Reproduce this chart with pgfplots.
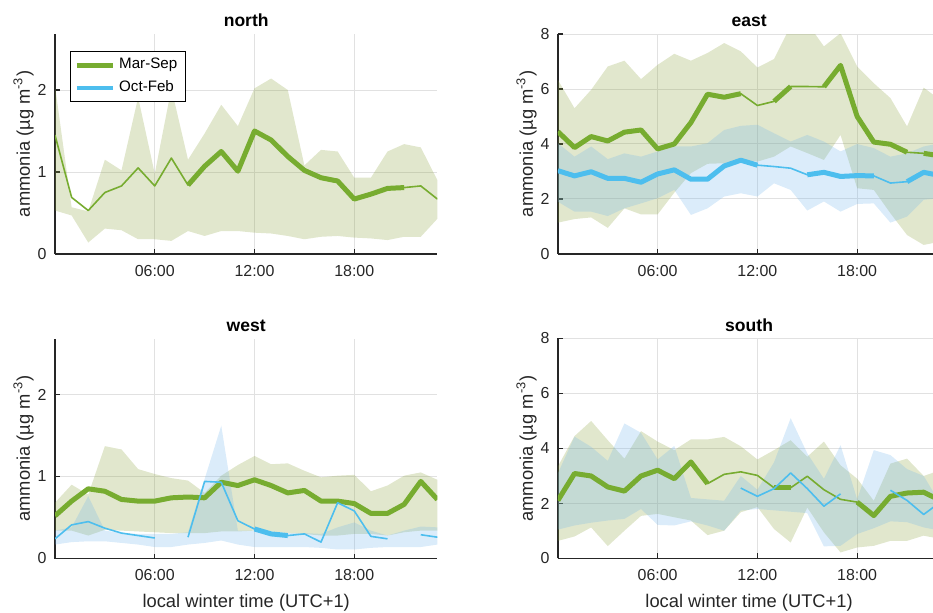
\documentclass[border=0pt]{standalone}
\usepackage{fontspec}
\setmainfont{Liberation Sans}
\usepackage{pgfplots}
\pgfplotsset{compat=1.18}
\usepackage{pgfplotstable}
\usepgfplotslibrary{groupplots,fillbetween}
\usetikzlibrary{calc}

\definecolor{LineGreen}{RGB}{119,172,48}
\definecolor{LineBlue}{RGB}{77,190,238}
\definecolor{BandGreen}{RGB}{135,160,55}
\definecolor{BandBlue}{RGB}{111,179,235}
\definecolor{AxisGray}{RGB}{38,38,38}
\definecolor{GridGray}{RGB}{225,225,225}

\pgfplotsset{
  gl/.style={LineGreen, line join=round},
  bl/.style={LineBlue, line join=round},
  thk/.style={line width=2.5bp},
  thn/.style={line width=0.8bp},
  gband/.style={fill=BandGreen, fill opacity=0.25, draw=none},
  bband/.style={fill=BandBlue, fill opacity=0.25, draw=none},
}

% hour, green band low/high, green median, blue band low/high, blue median
\pgfplotstableread{
h  glo  ghi  gm
0  0.53 2.05 1.45
1  0.47 0.57 0.69
2  0.14 0.52 0.53
3  0.31 1.15 0.75
4  0.29 1.02 0.83
5  0.18 1.91 1.05
6  0.18 0.98 0.83
7  0.16 2.02 1.17
8  0.28 1.15 0.84
9  0.22 1.47 1.07
10 0.28 1.82 1.25
11 0.28 1.56 1.01
12 0.26 2.02 1.50
13 0.25 2.14 1.39
14 0.22 2.00 1.19
15 0.18 1.08 1.02
16 0.21 1.27 0.93
17 0.22 1.25 0.89
18 0.20 0.93 0.67
19 0.19 0.93 0.73
20 0.17 1.25 0.80
21 0.21 1.34 0.81
22 0.21 1.30 0.83
23 0.43 0.90 0.67
}\north

\pgfplotstableread{
h  glo  ghi  gm   blo  bhi  bm
0  1.14 6.33 4.45 1.90 4.03 3.03
1  1.27 5.30 3.87 1.54 3.54 2.84
2  1.33 5.97 4.27 1.54 3.91 2.99
3  0.95 6.82 4.11 1.38 3.45 2.75
4  1.66 7.03 4.43 1.66 3.66 2.75
5  1.44 6.36 4.51 1.84 3.54 2.61
6  1.44 6.88 3.82 2.03 3.73 2.91
7  2.23 7.28 4.00 2.33 3.91 3.06
8  2.94 7.03 4.78 1.42 3.91 2.72
9  3.28 7.31 5.81 1.66 4.03 2.72
10 3.30 7.67 5.70 2.09 4.51 3.20
11 3.42 7.37 5.83 2.21 4.66 3.41
12 3.36 6.78 5.40 2.09 4.70 3.23
13 3.54 7.09 5.55 2.57 4.39 3.18
14 3.91 8.30 6.09 2.33 4.09 3.12
15 3.67 8.40 6.09 1.58 4.33 2.88
16 3.42 7.55 6.08 1.91 4.09 2.97
17 4.33 8.03 6.86 1.54 3.73 2.82
18 2.39 6.82 5.00 1.82 4.00 2.85
19 2.33 6.21 4.07 1.84 3.85 2.84
20 1.48 5.67 3.99 1.14 3.54 2.58
21 0.69 4.64 3.70 1.36 3.66 2.63
22 0.33 6.05 3.66 1.97 3.91 2.97
23 0.45 5.60 3.57 2.03 4.03 2.85
}\east

\pgfplotstableread{
h  glo  ghi  gm   blo  bhi  bm
0  0.34 0.68 0.52 0.17 0.34 0.24
1  0.34 0.90 0.70 0.20 0.38 0.41
2  0.28 0.78 0.85 0.21 0.76 0.45
3  0.35 1.37 0.82 0.21 0.34 0.37
4  0.34 1.33 0.72 0.19 0.31 0.31
5  0.33 1.09 0.70 0.17 0.30 0.28
6  0.32 1.03 0.70 0.14 0.30 0.25
7  0.31 0.98 0.74 0.14 0.30 nan
8  0.31 0.95 0.75 0.17 0.32 0.26
9  0.31 0.80 0.74 0.19 0.97 0.94
10 0.33 1.01 0.93 0.22 1.62 0.93
11 0.33 1.14 0.89 0.17 0.34 0.46
12 0.34 1.25 0.96 0.14 0.34 0.36
13 0.33 1.15 0.89 0.14 0.32 0.30
14 0.31 1.16 0.80 0.14 0.31 0.28
15 0.30 1.07 0.83 0.14 0.31 0.30
16 0.28 0.99 0.70 0.13 0.30 0.20
17 0.28 1.01 0.70 0.11 0.38 0.68
18 0.30 1.02 0.67 0.11 0.44 0.58
19 0.30 0.82 0.55 0.13 0.34 0.27
20 0.28 0.89 0.55 0.14 0.28 0.24
21 0.32 1.01 0.66 0.14 0.34 nan
22 0.34 1.05 0.94 0.14 0.39 0.29
23 0.34 0.96 0.72 0.17 0.38 0.26
}\west

\pgfplotstableread{
h  glo  ghi  gm   blo  bhi  bm
0  0.64 3.35 2.11 1.05 3.10 nan
1  0.80 4.45 3.09 1.20 4.43 nan
2  1.13 5.00 3.00 1.30 4.06 nan
3  0.45 4.30 2.60 1.38 3.55 nan
4  1.01 3.63 2.45 1.44 4.91 nan
5  1.55 4.63 3.00 1.80 4.57 nan
6  1.62 4.25 3.21 1.22 3.60 nan
7  1.50 3.94 2.90 1.20 4.09 nan
8  1.38 4.33 3.51 1.35 2.20 nan
9  0.85 4.33 2.72 1.20 2.15 nan
10 1.01 4.42 3.06 1.01 2.10 nan
11 1.68 4.08 3.15 1.74 3.00 2.56
12 1.87 3.60 3.02 1.80 2.50 2.26
13 1.07 3.94 2.57 1.75 3.50 2.54
14 0.58 4.30 2.57 1.70 5.10 3.11
15 1.85 3.70 2.99 1.65 3.82 2.54
16 0.95 4.25 2.50 0.44 2.90 1.90
17 0.22 3.39 2.15 0.46 4.12 2.35
18 0.40 2.90 2.05 0.89 2.15 nan
19 0.46 2.10 1.56 1.10 3.94 nan
20 0.64 3.45 2.26 1.35 3.76 2.48
21 0.64 3.63 2.38 1.32 3.25 2.11
22 0.83 3.00 2.41 1.13 3.00 1.60
23 0.71 3.21 2.11 1.01 2.00 2.05
}\south

\begin{document}
\begin{tikzpicture}
\begin{groupplot}[
  group style={group size=2 by 2, group name=G,
               horizontal sep=60.25bp, vertical sep=42.25bp},
  scale only axis, width=191.2bp, height=110bp,
  xmin=0, xmax=23,
  xtick={6,12,18}, xticklabels={06:00,12:00,18:00},
  axis x line*=bottom, axis y line*=left,
  axis line style={-, line width=0.9bp, AxisGray},
  tick align=inside, major tick length=2.5bp,
  tick style={AxisGray, line width=0.6bp},
  grid=major, grid style={GridGray, line width=0.5bp},
  tick label style={font=\fontsize{8}{9.6}\selectfont, text=AxisGray},
  xticklabel style={anchor=base, yshift=-11.2bp},
  yticklabel style={anchor=east, inner sep=0pt, xshift=-4bp},
  /pgf/number format/assume math mode=true,
  label style={font=\fontsize{9.2}{11}\selectfont, text=AxisGray},
  ylabel={ammonia (µg m\textsuperscript{-3})},
  ylabel style={at={(axis description cs:-0.0654,0.5)}, anchor=base},
  xlabel style={at={(axis description cs:0.5,-0.2227)}, anchor=base},
  every axis title shift=0pt,
  title style={font=\bfseries\fontsize{8.8}{10.5}\selectfont,
               at={(axis description cs:0.5,1.034)}, anchor=base},
  unbounded coords=jump,
  legend style={at={(0.039,0.923)}, anchor=north west, draw=black,
                line width=0.5bp, fill=white,
                font=\fontsize{7.6}{9}\selectfont,
                inner xsep=2bp, inner ysep=1.5bp, row sep=0.5bp},
  legend cell align=left,
  legend image code/.code={\draw[#1] (0bp,0bp) -- (18bp,0bp);},
]

% ---- north
\nextgroupplot[title={north}, ymin=0, ymax=2.683, ytick={0,1,2}]
\addlegendimage{gl, line width=2.4bp}
\addlegendentry{Mar-Sep}
\addlegendimage{bl, line width=2.4bp}
\addlegendentry{Oct-Feb}
\addplot[name path=nu, draw=none, forget plot] table[x=h, y=ghi] {\north};
\addplot[name path=nl, draw=none, forget plot] table[x=h, y=glo] {\north};
\addplot[gband, forget plot] fill between[of=nu and nl];
\addplot[gl, thn, forget plot] table[x=h, y=gm] {\north};
\addplot[gl, thk, forget plot, restrict x to domain=8:21] table[x=h, y=gm] {\north};

% ---- east
\nextgroupplot[title={east}, ymin=0, ymax=8, ytick={0,2,4,6,8}]
\addplot[name path=eu, draw=none, forget plot] table[x=h, y=ghi] {\east};
\addplot[name path=el, draw=none, forget plot] table[x=h, y=glo] {\east};
\addplot[gband, forget plot] fill between[of=eu and el];
\addplot[name path=ebu, draw=none, forget plot] table[x=h, y=bhi] {\east};
\addplot[name path=ebl, draw=none, forget plot] table[x=h, y=blo] {\east};
\addplot[bband, forget plot] fill between[of=ebu and ebl];
\addplot[gl, thn, forget plot] table[x=h, y=gm] {\east};
\addplot[gl, thk, forget plot, restrict x to domain=0:11] table[x=h, y=gm] {\east};
\addplot[gl, thk, forget plot, restrict x to domain=13:14] table[x=h, y=gm] {\east};
\addplot[gl, thk, forget plot, restrict x to domain=16:21] table[x=h, y=gm] {\east};
\addplot[gl, thk, forget plot, restrict x to domain=22:23] table[x=h, y=gm] {\east};
\addplot[bl, thn, forget plot] table[x=h, y=bm] {\east};
\addplot[bl, thk, forget plot, restrict x to domain=0:12] table[x=h, y=bm] {\east};
\addplot[bl, thk, forget plot, restrict x to domain=15:19] table[x=h, y=bm] {\east};
\addplot[bl, thk, forget plot, restrict x to domain=21:23] table[x=h, y=bm] {\east};

% ---- west
\nextgroupplot[title={west}, ymin=0, ymax=2.683, ytick={0,1,2},
               xlabel={local winter time (UTC+1)}]
\addplot[name path=wu, draw=none, forget plot] table[x=h, y=ghi] {\west};
\addplot[name path=wl, draw=none, forget plot] table[x=h, y=glo] {\west};
\addplot[gband, forget plot] fill between[of=wu and wl];
\addplot[name path=wbu, draw=none, forget plot] table[x=h, y=bhi] {\west};
\addplot[name path=wbl, draw=none, forget plot] table[x=h, y=blo] {\west};
\addplot[bband, forget plot] fill between[of=wbu and wbl];
\addplot[gl, thk, forget plot] table[x=h, y=gm] {\west};
\addplot[bl, thn, forget plot] table[x=h, y=bm] {\west};
\addplot[bl, thk, forget plot, restrict x to domain=12:14] table[x=h, y=bm] {\west};

% ---- south
\nextgroupplot[title={south}, ymin=0, ymax=8, ytick={0,2,4,6,8},
               xlabel={local winter time (UTC+1)}]
\addplot[name path=su, draw=none, forget plot] table[x=h, y=ghi] {\south};
\addplot[name path=sl, draw=none, forget plot] table[x=h, y=glo] {\south};
\addplot[gband, forget plot] fill between[of=su and sl];
\addplot[name path=sbu, draw=none, forget plot] table[x=h, y=bhi] {\south};
\addplot[name path=sbl, draw=none, forget plot] table[x=h, y=blo] {\south};
\addplot[bband, forget plot] fill between[of=sbu and sbl];
\addplot[gl, thn, forget plot] table[x=h, y=gm] {\south};
\addplot[gl, thk, forget plot, restrict x to domain=0:9] table[x=h, y=gm] {\south};
\addplot[gl, thk, forget plot, restrict x to domain=13:14] table[x=h, y=gm] {\south};
\addplot[gl, thk, forget plot, restrict x to domain=18:23] table[x=h, y=gm] {\south};
\addplot[bl, thn, forget plot] table[x=h, y=bm] {\south};
\end{groupplot}
\pgfresetboundingbox
\path[use as bounding box] ($(G c1r1.south west)+(-27.5bp,127bp)$)
  rectangle ($(G c1r1.south west)+(439bp,-179.5bp)$);
\end{tikzpicture}
\end{document}
